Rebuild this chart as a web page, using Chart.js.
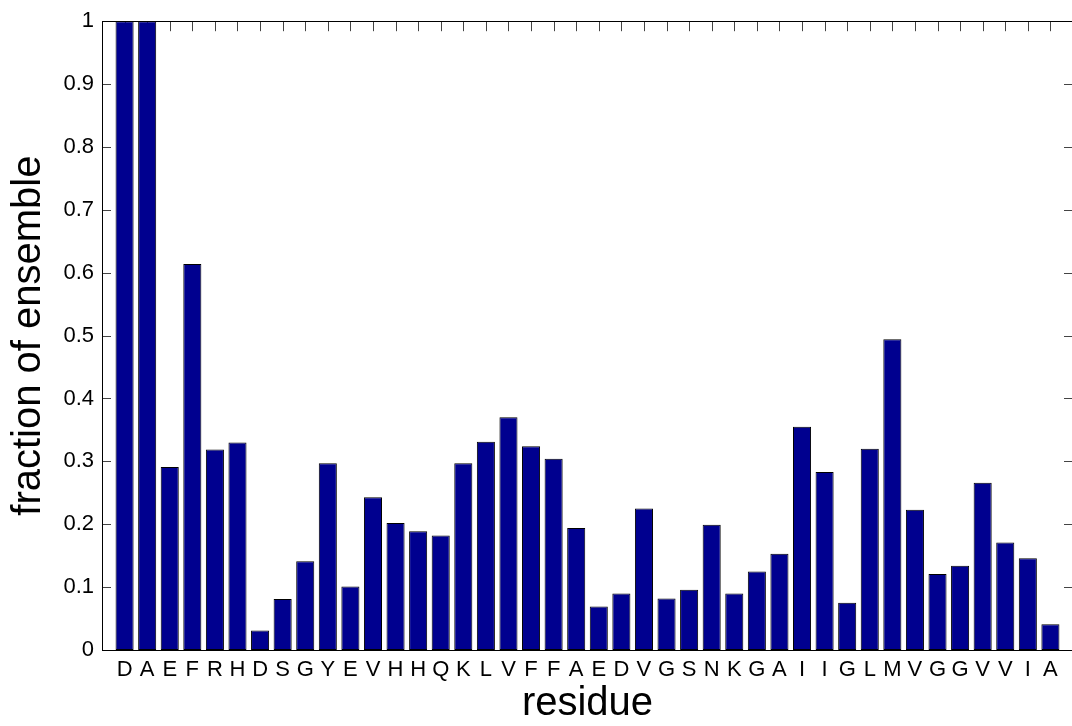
<!DOCTYPE html>
<html>
<head>
<meta charset="utf-8">
<title>fraction of ensemble by residue</title>
<script src="https://cdn.jsdelivr.net/npm/chart.js@4"></script>
<style>
  html, body { margin: 0; padding: 0; background: #fff; overflow: hidden; }
  /* plot runs a little past the window on the right, like the original crop */
  #wrap { position: relative; width: 1080px; height: 726px; }
</style>
</head>
<body>
<div id="wrap"><canvas id="chart"></canvas></div>
<script>
// residues along the x axis, in order
var residues = ['D', 'A', 'E', 'F', 'R', 'H', 'D', 'S', 'G', 'Y', 'E', 'V', 'H', 'H', 'Q',
  'K', 'L', 'V', 'F', 'F', 'A', 'E', 'D', 'V', 'G', 'S', 'N', 'K', 'G', 'A', 'I', 'I',
  'G', 'L', 'M', 'V', 'G', 'G', 'V', 'V', 'I', 'A'];

// fraction of ensemble for each residue
var fractions = [1.0, 1.0, 0.291, 0.614, 0.319, 0.330, 0.031, 0.081, 0.141, 0.297,
  0.101, 0.243, 0.202, 0.189, 0.182, 0.297, 0.331, 0.370, 0.324, 0.304, 0.194,
  0.069, 0.090, 0.225, 0.082, 0.096, 0.199, 0.090, 0.125, 0.153, 0.355, 0.283,
  0.075, 0.320, 0.494, 0.223, 0.121, 0.134, 0.266, 0.171, 0.146, 0.041];

// y tick labels, 0 to 1 by 0.1
var yTickLabels = ['0', '0.1', '0.2', '0.3', '0.4', '0.5', '0.6', '0.7', '0.8', '0.9', '1'];

var fontFamily = 'Arial, "Liberation Sans", Helvetica, sans-serif';

// bars sit at x = 1..n, axis runs 0..n+1 (matlab style)
var points = [];
for (var i = 0; i < fractions.length; i++) {
  points.push({ x: i + 1, y: fractions[i] });
}

// draws the box and inward tick marks
var matlabAxes = {
  id: 'matlabAxes',
  beforeDatasetsDraw: function (chart) {
    var ctx = chart.ctx;
    var area = chart.chartArea;
    var x = chart.scales.x;
    var y = chart.scales.y;
    ctx.save();
    ctx.strokeStyle = '#444';
    ctx.lineWidth = 1;
    ctx.beginPath();
    // top ticks at each residue
    for (var i = 1; i <= residues.length; i++) {
      var px = Math.round(x.getPixelForValue(i)) + 0.5;
      ctx.moveTo(px, area.top);
      ctx.lineTo(px, area.top + 10);
    }
    // left and right ticks at each y value
    for (var j = 1; j < yTickLabels.length - 1; j++) {
      var py = Math.round(y.getPixelForValue(j / 10)) + 0.5;
      ctx.moveTo(area.left, py);
      ctx.lineTo(area.left + 9, py);
      ctx.moveTo(area.right, py);
      ctx.lineTo(area.right - 9, py);
    }
    ctx.stroke();
    ctx.restore();
  },
  afterDatasetsDraw: function (chart) {
    var ctx = chart.ctx;
    var area = chart.chartArea;
    ctx.save();
    ctx.strokeStyle = '#000';
    ctx.lineWidth = 1;
    var l = Math.round(area.left) + 0.5;
    var r = Math.round(area.right) + 0.5;
    var t = Math.round(area.top) + 0.5;
    var b = Math.round(area.bottom) + 0.5;
    ctx.strokeRect(l, t, r - l, b - t);
    ctx.restore();
  }
};

new Chart(document.getElementById('chart'), {
  type: 'bar',
  data: {
    datasets: [{
      data: points,
      backgroundColor: '#00008f',
      borderColor: '#000',
      borderWidth: 1,
      borderSkipped: false,
      categoryPercentage: 1.0,
      barPercentage: 0.8
    }]
  },
  options: {
    responsive: true,
    maintainAspectRatio: false,
    animation: false,
    layout: { padding: { top: 20, right: 7, left: 0, bottom: 0 } },
    plugins: {
      legend: { display: false },
      tooltip: { enabled: false }
    },
    scales: {
      x: {
        type: 'linear',
        offset: false,
        min: 0,
        max: residues.length + 1,
        grid: { display: false, offset: false, drawTicks: false },
        border: { display: false },
        ticks: {
          stepSize: 1,
          autoSkip: false,
          maxRotation: 0,
          padding: 7,
          color: '#000',
          font: { family: fontFamily, size: 22 },
          callback: function (v) { return residues[v - 1] || ''; }
        },
        title: {
          display: true,
          text: 'residue',
          color: '#000',
          font: { family: fontFamily, size: 40, lineHeight: 1 },
          padding: { top: 0, bottom: 2 }
        },
        afterFit: function (scale) { scale.height = 76; }
      },
      y: {
        min: 0,
        max: 1,
        grid: { display: false, drawTicks: false },
        border: { display: false },
        ticks: {
          stepSize: 0.1,
          padding: 8,
          color: '#000',
          font: { family: fontFamily, size: 22 },
          callback: function (v) { return yTickLabels[Math.round(v * 10)]; }
        },
        title: {
          display: true,
          text: 'fraction of ensemble',
          color: '#000',
          font: { family: fontFamily, size: 40, lineHeight: 1 },
          padding: { top: 9, bottom: 0 }
        },
        afterFit: function (scale) { scale.width = 102; }
      }
    }
  },
  plugins: [matlabAxes]
});
</script>
</body>
</html>
